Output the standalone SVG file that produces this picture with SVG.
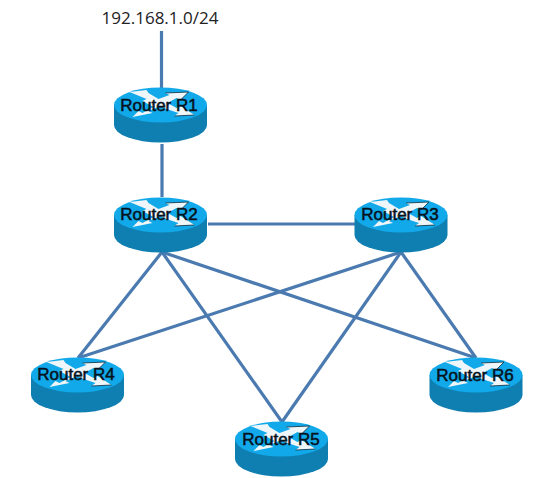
<svg xmlns="http://www.w3.org/2000/svg" width="550" height="478" viewBox="0 0 550 478">
<defs>
<style>
.lnk{stroke:#4a7ab0;stroke-width:3.200;fill:none;stroke-linecap:butt}
.lbl{font-family:"Liberation Sans",Arial,sans-serif;font-size:17px;fill:#06121c;text-anchor:middle;stroke:#06121c;stroke-width:.55}
.net{font-family:"Open Sans","Liberation Sans",sans-serif;font-size:17px;fill:#222;text-anchor:middle}
</style>
<symbol id="router" overflow="visible" viewBox="-47 -19 94 56" width="94" height="56">
<path d="M-46.500 0V20A46.500 17.500 0 0 0 46.500 20V0Z" fill="#0f7eb0"/>
<ellipse cx="0" cy="0" rx="46.500" ry="17.500" fill="#12a9ea"/>
<path d="M-31-13L-14-15-12-12-2-6 9-10 5-12 28-13 20-5 16-7 7-2 16 3 20 1 34 10 14 11 18 8 6 4 0 1-12 6-8 8-28 12-22 6-18 8-7 2-18-4-14-6Z" fill="#eef6fa"/>
<path d="M5-12L28-13 20-5M14 11L34 10" fill="none" stroke="#0a2a3a" stroke-width=".8"/>
</symbol>
</defs>
<rect width="550" height="478" fill="#fff"/>
<g id="connectors">
<line class="lnk" x1="161.500" y1="31" x2="161.500" y2="88"/>
<line class="lnk" x1="162" y1="144" x2="162" y2="197"/>
<line class="lnk" x1="208" y1="224" x2="355" y2="224"/>
<line class="lnk" x1="162" y1="252" x2="78" y2="358"/>
<line class="lnk" x1="162" y1="252" x2="282" y2="422"/>
<line class="lnk" x1="162" y1="252" x2="476" y2="358"/>
<line class="lnk" x1="401" y1="252" x2="78" y2="358"/>
<line class="lnk" x1="401" y1="252" x2="282" y2="422"/>
<line class="lnk" x1="401" y1="252" x2="476" y2="358"/>
</g>
<text class="net" x="160" y="24">192.168.1.0/24</text>
<g id="R1"><use href="#router" x="113.500" y="86"/><text class="lbl" x="159" y="111">Router R1</text></g>
<g id="R2"><use href="#router" x="113.500" y="196"/><text class="lbl" x="159" y="220">Router R2</text></g>
<g id="R3"><use href="#router" x="354" y="196"/><text class="lbl" x="400" y="220">Router R3</text></g>
<g id="R4"><use href="#router" x="30.500" y="356"/><text class="lbl" x="76" y="380">Router R4</text></g>
<g id="R5"><use href="#router" x="234.500" y="420"/><text class="lbl" x="281" y="445">Router R5</text></g>
<g id="R6"><use href="#router" x="429" y="356"/><text class="lbl" x="475" y="381">Router R6</text></g>
</svg>
